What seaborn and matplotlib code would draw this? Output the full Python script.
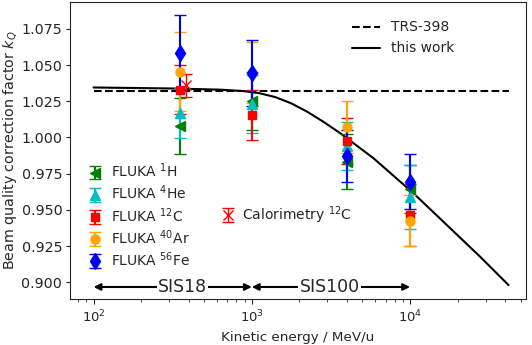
import numpy as np
import matplotlib
matplotlib.use("Agg")
import matplotlib.pyplot as plt
import seaborn as sns

# curves
E_curve = [100, 316, 631, 891, 1122, 1413, 1778, 2228, 2818, 3614, 5870, 10500, 17060, 27700, 41900]
k_curve = [1.0345, 1.0338, 1.0330, 1.0320, 1.0305, 1.0278, 1.0235, 1.0179, 1.0110, 1.0030,
           0.9857, 0.9615, 0.9396, 0.9177, 0.8981]
E_trs = [100, 41900]
k_trs = [1.032, 1.032]

# FLUKA points
E_fluka = [350, 1000, 4000, 10000]
k_H = [1.008, 1.025, 0.9833, 0.9643]
err_H = [0.0195, 0.020, 0.0188, 0.0167]
k_He = [1.0168, 1.023, 0.9944, 0.959]
err_He = [0.017, 0.020, 0.0166, 0.022]
k_C = [1.033, 1.0155, 0.9976, 0.9465]
err_C = [0.017, 0.0173, 0.016, 0.0215]
k_Ar = [1.0455, 1.0448, 1.0075, 0.9426]
err_Ar = [0.027, 0.021, 0.018, 0.0176]
k_Fe = [1.0582, 1.0444, 0.9873, 0.9695]
err_Fe = [0.026, 0.023, 0.018, 0.019]

# calorimetry
E_cal = [385]
k_cal = [1.036]
err_cal = [0.008]

sns.set_style("ticks")
plt.rcParams['font.family'] = ['DejaVu Sans']
fig = plt.figure(figsize=(5.32, 3.45), dpi=100)
ax = fig.add_axes([0.1316, 0.1333, 0.8571, 0.8609])

l1, = ax.plot(E_trs, k_trs, 'k--', lw=1.5, label='TRS-398')
sns.lineplot(x=E_curve, y=k_curve, color='k', lw=1.5, ax=ax)
l2 = ax.lines[-1]
l2.set_label('this work')

series = [
    (k_H, err_H, 'green', '<', 6.5, 'FLUKA $^{1}$H'),
    (k_He, err_He, 'c', '^', 6.5, 'FLUKA $^{4}$He'),
    (k_C, err_C, 'r', 's', 6, 'FLUKA $^{12}$C'),
    (k_Ar, err_Ar, 'orange', 'o', 6.5, 'FLUKA $^{40}$Ar'),
    (k_Fe, err_Fe, 'b', 'd', 8.5, 'FLUKA $^{56}$Fe'),
]
handles = []
for k, e, c, m, s, lab in series:
    h = ax.errorbar(E_fluka, k, yerr=e, color=c, fmt=m, ms=s, capsize=4,
                    elinewidth=1.5, label=lab)
    handles.append(h)
hc = ax.errorbar(E_cal, k_cal, yerr=err_cal, color='r', fmt='x', ms=7, capsize=4,
                 elinewidth=1, label='Calorimetry $^{12}$C')

ax.set_xscale('log')
ax.set_xlim(71, 5.4e4)
ax.set_ylim(0.8885, 1.0935)
ax.set_yticks([0.900, 0.925, 0.950, 0.975, 1.000, 1.025, 1.050, 1.075])
ax.tick_params(axis='y', labelsize=10.3, length=3, pad=2.5)
ax.tick_params(axis='x', labelsize=9.5)
ax.set_xlabel('Kinetic energy / MeV/u', fontsize=9.7)
ax.set_ylabel('Beam quality correction factor $k_Q$', fontsize=10.3, labelpad=2)

# accelerator ranges
for x0, x1, xt, txt in [(100, 1000, 365, 'SIS18'), (1000, 10000, 3100, 'SIS100')]:
    ax.annotate('', xy=(x0, 0.8968), xytext=(x1, 0.8968),
                arrowprops=dict(arrowstyle='<|-|>', color='k', lw=1.5,
                                shrinkA=0, shrinkB=0, mutation_scale=10))
    ax.text(xt, 0.8968, txt, ha='center', va='center', fontsize=12.5,
            bbox=dict(facecolor='white', edgecolor='none', pad=1))

leg1 = ax.legend(handles=[l1, l2], loc='upper right', bbox_to_anchor=(0.87, 0.98),
                 frameon=False, fontsize=10)
ax.add_artist(leg1)
leg2 = ax.legend(handles=handles, loc='lower left', bbox_to_anchor=(0.01, 0.06),
                 frameon=False, fontsize=10, handletextpad=0.5, labelspacing=0.25,
                 handlelength=1.2)
ax.add_artist(leg2)
ax.legend(handles=[hc], loc='lower left', bbox_to_anchor=(0.30, 0.205),
          frameon=False, fontsize=10, handletextpad=0.4, handlelength=1.2)

fig.savefig('out.png', dpi=100)
